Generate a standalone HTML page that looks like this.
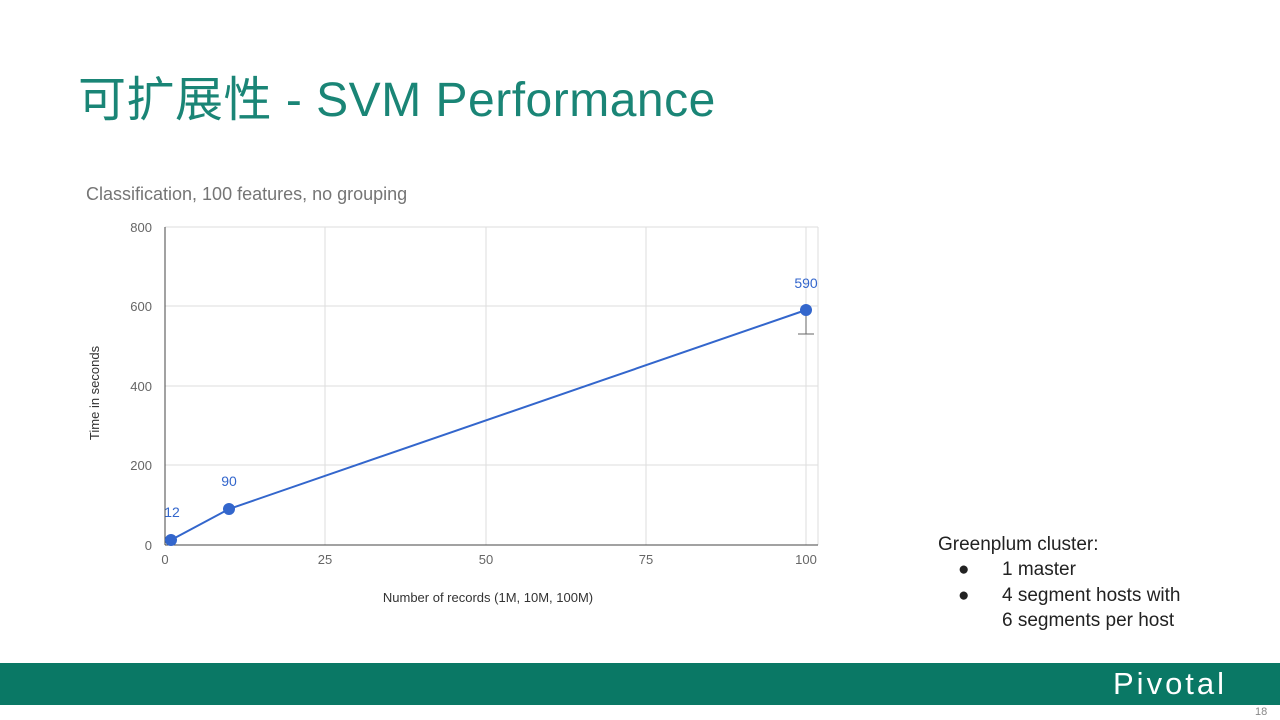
<!DOCTYPE html>
<html><head><meta charset="utf-8"><style>
body{margin:0;width:1280px;height:720px;background:#fff;position:relative;overflow:hidden;font-family:"Liberation Sans","Noto Sans CJK SC",sans-serif}
.t{position:absolute;left:78px;top:60px;font-size:48px;color:#1a8576;white-space:nowrap;letter-spacing:0.5px}
.foot{position:absolute;left:0;top:663px;width:1280px;height:42px;background:#0a7865}
.logo{position:absolute;left:1113px;top:666px;color:#fff;font-size:31px;letter-spacing:3px}
.pg{position:absolute;left:1255px;top:706px;font-size:11px;color:#888}
.n{position:absolute;font-size:19px;color:#222;white-space:nowrap}
</style></head><body>
<div class="t">可扩展性 - SVM Performance</div>
<svg width="1280" height="720" style="position:absolute;left:0;top:0" font-family="Liberation Sans, sans-serif">
<text x="86" y="200" font-size="18" fill="#757575">Classification, 100 features, no grouping</text>
<g stroke="#ddd" stroke-width="1">
<line x1="165" y1="227" x2="818" y2="227"/><line x1="165" y1="306" x2="818" y2="306"/><line x1="165" y1="386" x2="818" y2="386"/><line x1="165" y1="465" x2="818" y2="465"/>
<line x1="325" y1="227" x2="325" y2="545"/><line x1="486" y1="227" x2="486" y2="545"/><line x1="646" y1="227" x2="646" y2="545"/><line x1="806" y1="227" x2="806" y2="545"/><line x1="818" y1="227" x2="818" y2="545"/>
</g>
<line x1="165" y1="227" x2="165" y2="545" stroke="#444"/>
<line x1="165" y1="545" x2="818" y2="545" stroke="#444"/>
<g font-size="13" fill="#666" text-anchor="end">
<text x="152" y="232">800</text><text x="152" y="311">600</text><text x="152" y="391">400</text><text x="152" y="470">200</text><text x="152" y="550">0</text></g>
<g font-size="13" fill="#666" text-anchor="middle">
<text x="165" y="564">0</text><text x="325" y="564">25</text><text x="486" y="564">50</text><text x="646" y="564">75</text><text x="806" y="564">100</text></g>
<text x="488" y="602" font-size="13" fill="#333" text-anchor="middle">Number of records (1M, 10M, 100M)</text>
<text transform="translate(99,393) rotate(-90)" font-size="13" fill="#333" text-anchor="middle">Time in seconds</text>
<polyline points="171,540 229,509 806,310" fill="none" stroke="#3366cc" stroke-width="2"/>
<g stroke="#666"><line x1="806" y1="310" x2="806" y2="334"/><line x1="798" y1="334" x2="814" y2="334"/></g>
<g fill="#3366cc"><circle cx="171" cy="540" r="6"/><circle cx="229" cy="509" r="6"/><circle cx="806" cy="310" r="6"/></g>
<g font-size="14" fill="#3366cc" text-anchor="middle"><text x="172" y="517">12</text><text x="229" y="486">90</text><text x="806" y="288">590</text></g>
</svg>
<div class="n" style="left:938px;top:534px">Greenplum cluster:</div>
<div class="n" style="left:958px;top:559px">●</div><div class="n" style="left:1002px;top:559px">1 master</div>
<div class="n" style="left:958px;top:585px">●</div><div class="n" style="left:1002px;top:585px">4 segment hosts with</div>
<div class="n" style="left:1002px;top:610px">6 segments per host</div>
<div class="foot"></div><div class="logo">Pivotal</div><div class="pg">18</div>
</body></html>
